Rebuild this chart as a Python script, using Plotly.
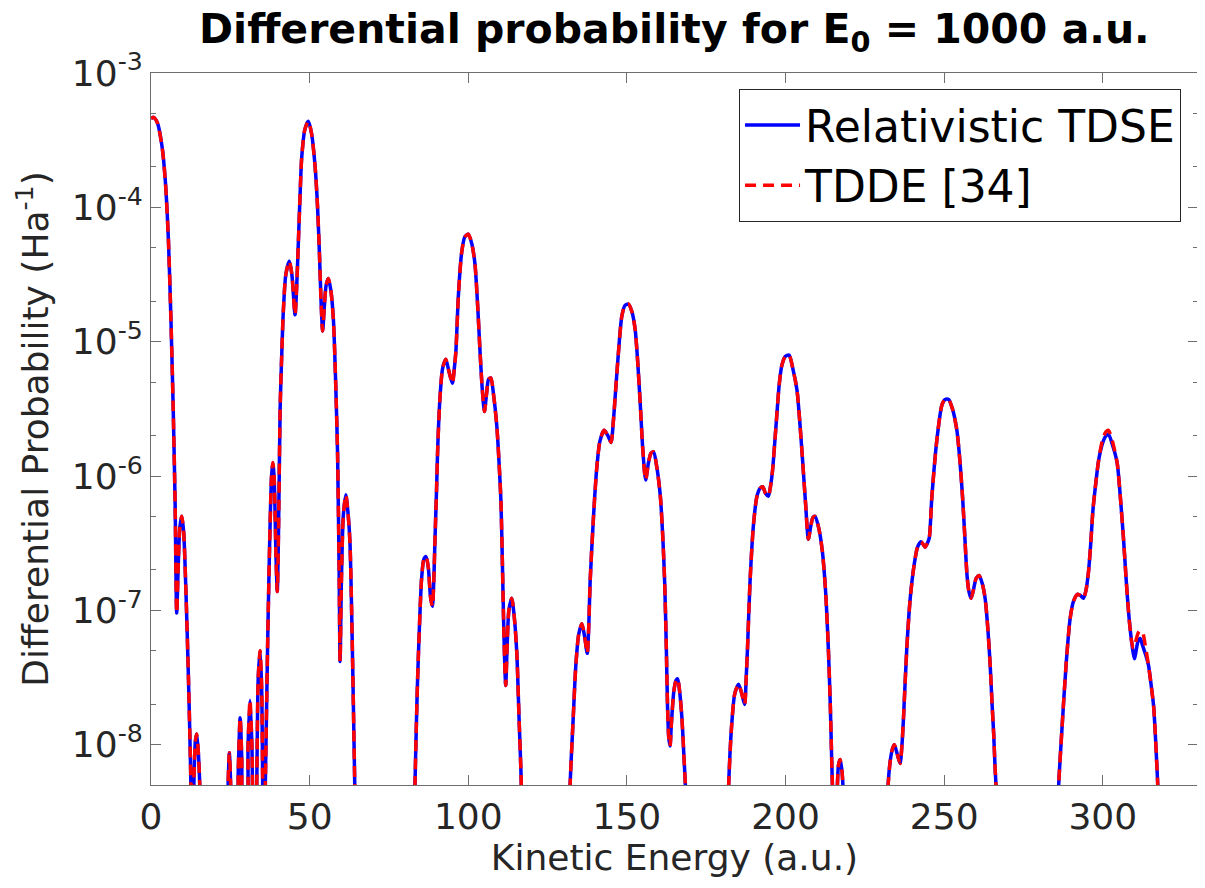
import plotly.graph_objects as go

# Kinetic energy (a.u.) sample positions
energy = [
    0, 0.8, 2, 3.5, 4.5, 5.5, 6.3, 7.0, 7.6, 8.1, 8.6, 9.1, 9.7, 10.3, 11.0, 11.8, 12.5, 13.0,
    13.6, 14.0, 14.4, 14.9, 15.5, 16.2, 20,
    23.8, 24.3, 24.7, 25.1, 25.6, 26.9, 27.5, 28.1, 28.6, 29.2, 30.0, 30.6, 31.2, 31.8, 32.4,
    33.2, 33.8, 34.4, 34.9, 35.5, 36.1, 36.8, 37.4, 38.0, 38.4, 38.8, 39.4, 39.8, 40.2, 40.7,
    41.2, 41.7, 42.5, 43.6, 44.4, 45.4, 45.9, 46.4, 47.0, 47.5, 48.5, 49.6, 50.6, 51.7, 52.5,
    53.1, 53.6, 54.1, 54.6, 55.2, 55.9, 56.7, 57.5, 58.2, 58.8, 59.3, 59.6, 60.0, 60.6, 61.4,
    62.0, 62.7, 63.4, 64.1, 64.6, 66, 80,
    82.5, 83.2, 83.8, 84.3, 85.3, 86.0, 86.7, 87.4, 88.1, 88.7, 89.1, 89.5, 90.0, 90.4, 91.1,
    91.9, 92.9, 93.9, 95.0, 95.6, 96.1, 96.9, 97.9, 98.9, 100.0, 101.1, 102.1, 103.0, 103.7,
    104.4, 105.1, 105.8, 106.4, 107.1, 108.0, 109.0, 109.7, 110.3, 110.8, 111.1, 111.5, 111.8,
    112.2, 112.8, 113.7, 114.5, 115.3, 116.0, 116.6, 117.2, 118, 130,
    131.5, 132.1, 133.1, 133.9, 134.8, 135.8, 136.7, 137.5, 138.0, 138.4, 139.5, 140.5, 141.5,
    142.8, 144.0, 145.0, 145.7, 146.3, 147.3, 148.4, 149.4, 150.5, 151.6, 152.6, 153.4, 154.2,
    155.0, 155.9, 156.8, 157.6, 158.4, 159.4, 160.5, 161.3, 161.9, 162.4, 162.8, 163.2, 163.6,
    164.0, 164.8, 165.5, 166.0, 166.6, 167.3, 168.0, 168.6, 169.5, 180,
    181.5, 182.0, 183.0, 184.0, 185.2, 186.2, 187.1, 187.6, 188.0, 188.8, 189.9, 191.0, 192.0,
    192.8, 193.7, 194.6, 195.3, 195.9, 196.6, 197.3, 198.0, 198.8, 199.9, 201.1, 202.3, 203.6,
    204.5, 205.3, 206.3, 207.2, 207.9, 208.6, 209.3, 210.4, 211.6, 212.6, 213.5, 214.1, 214.6,
    215.0, 215.5, 216.2, 216.7, 217.2, 217.8, 218.4, 219.0, 220, 230,
    231.6, 232.2, 233.0, 233.7, 234.3, 235.2, 236.1, 236.7, 237.2, 238.2, 239.3, 240.6, 241.6,
    242.7, 243.4, 244.0, 244.7, 245.3, 246.1, 247.7, 249.3, 250.3, 251.4, 252.6, 254.0, 255.0,
    255.8, 256.5, 257.2, 257.8, 258.5, 259.2, 260.1, 261.0, 262.0, 262.9, 263.8, 264.5, 265.1,
    265.6, 266.0, 266.5, 267.3, 284,
    285.5, 286.0, 287.1, 288.5, 289.7, 290.8, 292.1, 293.0, 293.9, 294.7, 295.5, 296.2, 296.9,
    297.8, 298.7, 300.0, 301.0, 301.8, 302.8, 304.5, 305.5, 306.5, 307.3, 308.1, 309.0, 309.6,
    310.0, 310.5, 311.1, 311.8, 312.5, 313.5, 314.4, 315.2, 316.0, 316.5, 317.0, 317.4, 318.0,
    319, 330,
]

# log10 of the relativistic TDSE differential probability (Ha^-1)
tdse_log10 = [
    -3.34, -3.33, -3.37, -3.55, -3.80, -4.25, -4.85, -5.50, -6.20, -7.02, -6.65, -6.38, -6.30,
    -6.42, -6.85, -7.50, -8.20, -9.0,
    -8.20, -7.97, -7.92, -8.05, -8.40, -9.5, -10,
    -9.0, -8.30, -8.06, -8.30, -9.0, -9.0, -8.20, -7.80, -8.10, -9.0, -9.0, -8.00, -7.67, -8.00,
    -9.0, -8.50, -7.50, -7.30, -7.60, -9.0, -8.20, -7.20, -6.50, -6.00, -5.90, -6.00, -6.60,
    -6.86, -6.40, -5.50, -5.10, -4.78, -4.50, -4.40, -4.50, -4.80, -4.60, -4.29, -3.90, -3.63,
    -3.42, -3.36, -3.45, -3.69, -4.00, -4.35, -4.70, -4.92, -4.75, -4.58, -4.53, -4.62, -4.84,
    -5.30, -5.83, -6.70, -7.38, -6.80, -6.30, -6.14, -6.25, -6.49, -7.20, -8.13, -8.80, -10, -10,
    -9.0, -8.30, -7.70, -7.32, -6.76, -6.62, -6.60, -6.68, -6.90, -6.97, -6.80, -6.48, -6.10,
    -5.77, -5.41, -5.20, -5.13, -5.22, -5.31, -5.20, -5.07, -4.65, -4.34, -4.22, -4.20, -4.27,
    -4.42, -4.75, -5.07, -5.35, -5.52, -5.38, -5.28, -5.27, -5.40, -5.63, -5.90, -6.19, -6.70,
    -7.04, -7.40, -7.56, -7.30, -7.00, -6.91, -7.05, -7.32, -7.80, -8.20, -8.80, -10, -10,
    -9.0, -8.30, -7.79, -7.41, -7.18, -7.10, -7.20, -7.32, -7.10, -6.79, -6.29, -5.94, -5.74,
    -5.66, -5.70, -5.75, -5.60, -5.41, -5.09, -4.81, -4.73, -4.72, -4.78, -4.91, -5.15, -5.46,
    -5.80, -6.03, -5.90, -5.83, -5.82, -5.93, -6.14, -6.45, -6.79, -7.25, -7.71, -7.95, -8.01,
    -7.85, -7.60, -7.52, -7.51, -7.60, -7.79, -8.10, -8.40, -10, -10,
    -9.0, -8.35, -7.86, -7.62, -7.55, -7.62, -7.70, -7.50, -7.29, -6.79, -6.36, -6.15, -6.09,
    -6.08, -6.13, -6.15, -6.07, -5.96, -5.75, -5.53, -5.32, -5.18, -5.11, -5.10, -5.20, -5.36,
    -5.60, -5.86, -6.20, -6.47, -6.38, -6.31, -6.30, -6.38, -6.56, -6.85, -7.29, -7.70, -8.16,
    -8.50, -9.00, -8.40, -8.15, -8.11, -8.20, -8.50, -9.5, -10, -10,
    -9.0, -8.35, -8.12, -8.03, -8.00, -8.07, -8.14, -8.00, -7.79, -7.29, -6.91, -6.65, -6.53,
    -6.49, -6.51, -6.53, -6.50, -6.46, -6.16, -5.73, -5.47, -5.43, -5.43, -5.50, -5.66, -5.90,
    -6.16, -6.45, -6.74, -6.86, -6.91, -6.85, -6.76, -6.74, -6.80, -6.91, -7.15, -7.41, -7.70,
    -7.92, -8.15, -8.40, -10, -10,
    -9.0, -8.35, -7.89, -7.38, -7.06, -6.93, -6.88, -6.89, -6.91, -6.85, -6.71, -6.50, -6.25,
    -6.05, -5.88, -5.75, -5.70, -5.69, -5.75, -5.90, -6.15, -6.46, -6.75, -7.01, -7.22, -7.32,
    -7.36, -7.30, -7.23, -7.21, -7.26, -7.33, -7.41, -7.55, -7.71, -7.90, -8.14, -8.35, -9.0,
    -10, -10,
]

# TDDE [34] values that differ visibly from the TDSE curve (energy: log10 value)
tdde_diff_log10 = {
    300.0: -5.72, 301.0: -5.67, 301.8: -5.66, 302.8: -5.72,
    309.6: -7.28, 310.0: -7.28, 310.5: -7.22, 311.1: -7.17, 311.8: -7.15, 312.5: -7.16,
    313.5: -7.28,
}

x_ticks = [0, 50, 100, 150, 200, 250, 300]
y_tick_exps = [-8, -7, -6, -5, -4, -3]

tdse = [10 ** v for v in tdse_log10]
tdde = [10 ** tdde_diff_log10.get(e, v) for e, v in zip(energy, tdse_log10)]

fig = go.Figure()
fig.add_trace(go.Scatter(
    x=energy, y=tdse, mode="lines", name="Relativistic TDSE",
    line=dict(color="#0000ff", width=3.5, shape="spline", smoothing=0.7),
))
fig.add_trace(go.Scatter(
    x=energy, y=tdde, mode="lines", name="TDDE [34]",
    line=dict(color="#ff0000", width=3.5, dash="11px,7px", shape="spline", smoothing=0.7),
))

axis_color = "#6e6e6e"
tick_font = dict(family="DejaVu Sans", size=36, color="#262626")

# the page body adds an 8px offset; margins compensate so the plot lands at 151..1198 x 73..785
fig.update_layout(
    width=1205, height=888,
    margin=dict(l=143, r=15, t=65, b=111, autoexpand=False),
    paper_bgcolor="white", plot_bgcolor="white",
    showlegend=True,
    title=dict(
        text="<b>Differential probability for E<sub>0</sub> = 1000 a.u.</b>",
        font=dict(family="DejaVu Sans", size=41, color="black"),
        x=0.553, xanchor="center", y=0.993, yanchor="top", xref="container", yref="container",
        automargin=False,
    ),
    legend=dict(
        x=0.9838, xanchor="right", y=0.9775, yanchor="top",
        bgcolor="white", bordercolor="#262626", borderwidth=1,
        font=dict(family="DejaVu Sans", size=44, color="black"),
        tracegroupgap=0, itemwidth=55,
    ),
    xaxis=dict(
        range=[0, 330], tickvals=x_ticks, ticktext=[str(t) for t in x_ticks],
        showgrid=False, zeroline=False, automargin=False,
        showline=True, linecolor=axis_color, linewidth=1, mirror="ticks",
        ticks="inside", ticklen=10, tickcolor=axis_color,
        tickfont=tick_font,
        title=dict(text="Kinetic Energy (a.u.)", font=dict(family="DejaVu Sans", size=36, color="#262626"), standoff=4),
    ),
    yaxis=dict(
        type="log", range=[-8.3, -3],
        tickvals=[10 ** e for e in y_tick_exps],
        ticktext=["10<sup>%d</sup>" % e for e in y_tick_exps],
        showgrid=False, zeroline=False, automargin=False,
        showline=True, linecolor=axis_color, linewidth=1, mirror="ticks",
        ticks="inside", ticklen=10, tickcolor=axis_color,
        tickfont=tick_font,
        minor=dict(ticks="inside", ticklen=5, tickcolor=axis_color, showgrid=False),
        title=dict(text="Differential Probability (Ha<sup>-1</sup>)", font=dict(family="DejaVu Sans", size=36, color="#262626"), standoff=12),
    ),
)

fig.write_html("out.html")
